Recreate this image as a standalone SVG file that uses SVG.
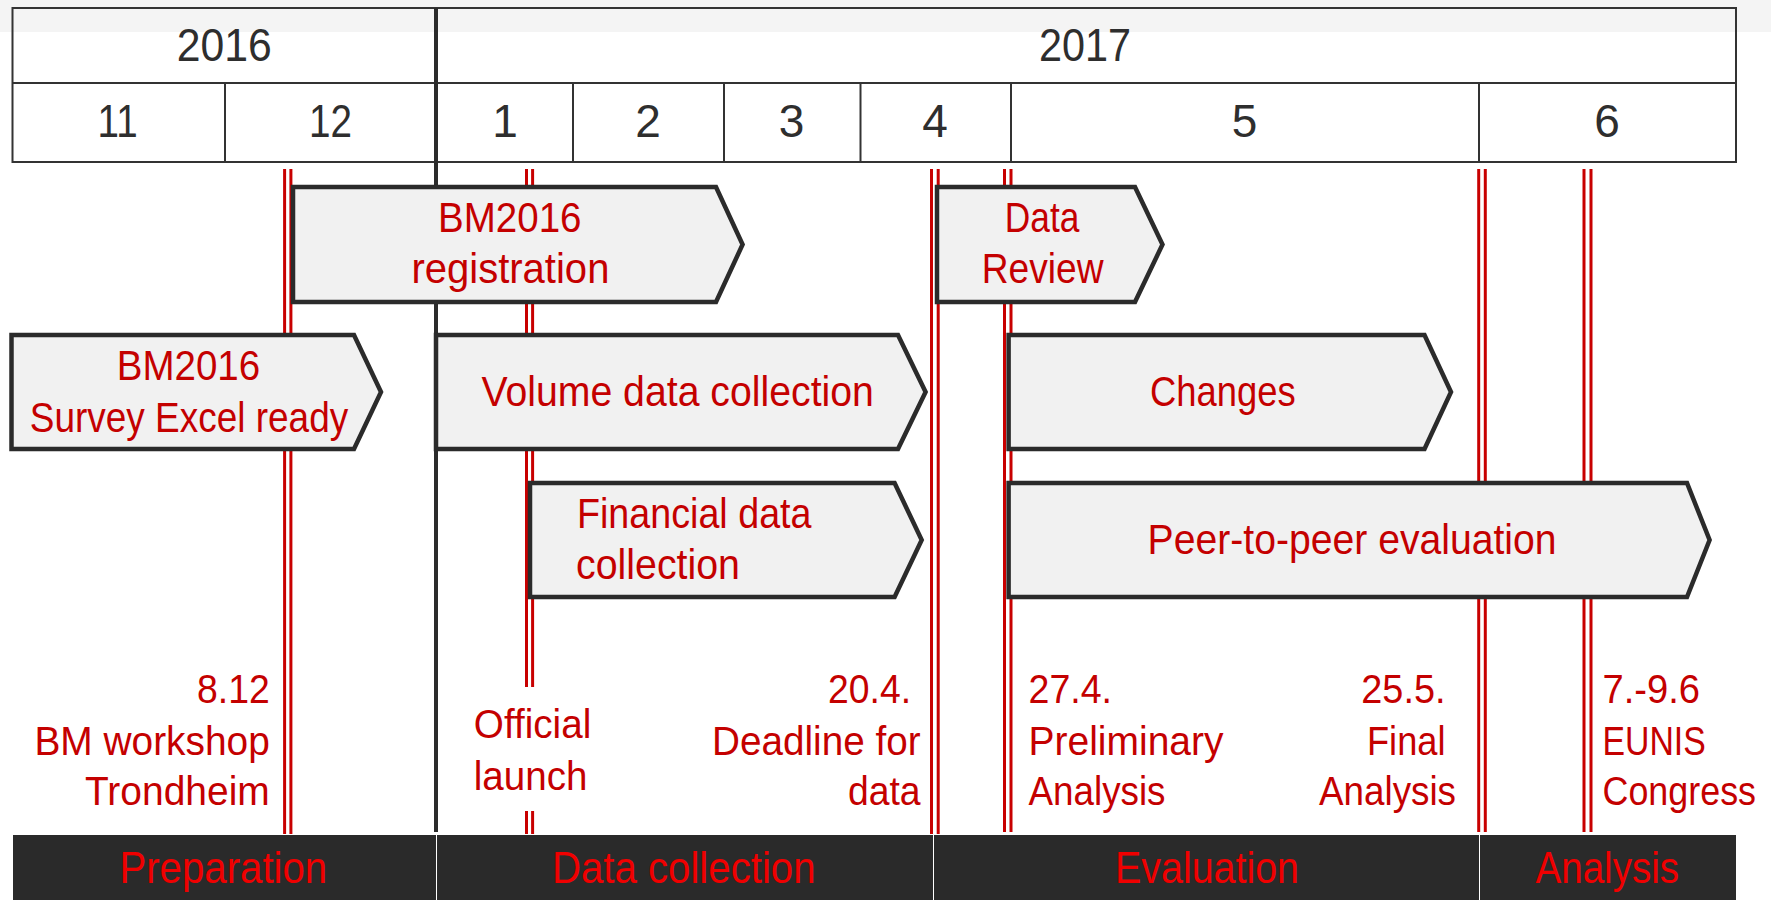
<svg xmlns="http://www.w3.org/2000/svg" width="1771" height="900" viewBox="0 0 1771 900">
<style>
text{font-family:"Liberation Sans Narrow","Liberation Sans",Arial,sans-serif;}
.hd{fill:#2e2e2e;font-size:46px;}
.bx{fill:#f1f1f1;stroke:#2b2b2b;stroke-width:4.5;}
.bl{fill:#c40000;font-size:42px;}
.ml{fill:#c40000;font-size:40px;}
.ph{fill:#f00000;font-size:44px;}
.rl{stroke:#c80000;stroke-width:3;fill:none;}
.grid{stroke:#333;stroke-width:2;fill:none;}
</style>
<rect x="0" y="0" width="1771" height="900" fill="#ffffff"/>
<rect x="0" y="0" width="1771" height="32" fill="#f4f4f4"/>

<g id="header">
<rect x="12.5" y="8" width="1723.5" height="154" fill="#f9f9f9" class="grid"/>
<line x1="12.5" y1="83" x2="1736" y2="83" class="grid"/>
<line x1="225" y1="83" x2="225" y2="162" class="grid"/>
<line x1="573" y1="83" x2="573" y2="162" class="grid"/>
<line x1="724" y1="83" x2="724" y2="162" class="grid"/>
<line x1="860.5" y1="83" x2="860.5" y2="162" class="grid"/>
<line x1="1011" y1="83" x2="1011" y2="162" class="grid"/>
<line x1="1479" y1="83" x2="1479" y2="162" class="grid"/>
<text class="hd" x="176.8" y="61" textLength="95" lengthAdjust="spacingAndGlyphs">2016</text>
<text class="hd" x="1039" y="61" textLength="92" lengthAdjust="spacingAndGlyphs">2017</text>
<text class="hd" x="97.6" y="137" textLength="40" lengthAdjust="spacingAndGlyphs">11</text>
<text class="hd" x="309" y="137" textLength="43" lengthAdjust="spacingAndGlyphs">12</text>
<text class="hd" x="505" y="137" text-anchor="middle">1</text>
<text class="hd" x="648" y="137" text-anchor="middle">2</text>
<text class="hd" x="791.6" y="137" text-anchor="middle">3</text>
<text class="hd" x="935" y="137" text-anchor="middle">4</text>
<text class="hd" x="1244.6" y="137" text-anchor="middle">5</text>
<text class="hd" x="1607" y="137" text-anchor="middle">6</text>
</g>

<g id="connectors">
<line x1="436" y1="8" x2="436" y2="832" stroke="#2b2b2b" stroke-width="4"/>
<line class="rl" x1="284.6" y1="169" x2="284.6" y2="834"/>
<line class="rl" x1="290.9" y1="169" x2="290.9" y2="834"/>
<line class="rl" x1="526.5" y1="169" x2="526.5" y2="687"/>
<line class="rl" x1="532.6" y1="169" x2="532.6" y2="687"/>
<line class="rl" x1="526.5" y1="811" x2="526.5" y2="834"/>
<line class="rl" x1="532.6" y1="811" x2="532.6" y2="834"/>
<line class="rl" x1="931.5" y1="169" x2="931.5" y2="834"/>
<line class="rl" x1="938.2" y1="169" x2="938.2" y2="834"/>
<line class="rl" x1="1004.5" y1="169" x2="1004.5" y2="832"/>
<line class="rl" x1="1011" y1="169" x2="1011" y2="832"/>
<line class="rl" x1="1478.7" y1="169" x2="1478.7" y2="832"/>
<line class="rl" x1="1485.3" y1="169" x2="1485.3" y2="832"/>
<line class="rl" x1="1584" y1="169" x2="1584" y2="832"/>
<line class="rl" x1="1591" y1="169" x2="1591" y2="832"/>
</g>

<g id="registration">
<polygon class="bx" points="293,187 716,187 742.6,244.5 716,302 293,302"/>
<text class="bl" x="438" y="231.7" textLength="143.5" lengthAdjust="spacingAndGlyphs">BM2016</text>
<text class="bl" x="411.4" y="283.3" textLength="198" lengthAdjust="spacingAndGlyphs">registration</text>
</g>
<g id="data-review">
<polygon class="bx" points="937,187 1135,187 1162.5,244.5 1135,302 937,302"/>
<text class="bl" x="1004.8" y="231.7" textLength="74.6" lengthAdjust="spacingAndGlyphs">Data</text>
<text class="bl" x="981.8" y="283.3" textLength="121.7" lengthAdjust="spacingAndGlyphs">Review</text>
</g>
<g id="survey">
<polygon class="bx" points="11.5,335 354,335 381,392 354,449 11.5,449"/>
<text class="bl" x="116.7" y="380" textLength="143.5" lengthAdjust="spacingAndGlyphs">BM2016</text>
<text class="bl" x="29.8" y="431.7" textLength="318.4" lengthAdjust="spacingAndGlyphs">Survey Excel ready</text>
</g>
<g id="volume">
<polygon class="bx" points="436,335 898,335 925.6,392 898,449 436,449"/>
<text class="bl" x="481.4" y="406" textLength="392.5" lengthAdjust="spacingAndGlyphs">Volume data collection</text>
</g>
<g id="changes">
<polygon class="bx" points="1008.6,335 1424.5,335 1451,392 1424.5,449 1008.6,449"/>
<text class="bl" x="1150" y="406" textLength="145.7" lengthAdjust="spacingAndGlyphs">Changes</text>
</g>
<g id="financial">
<polygon class="bx" points="530,483 894.6,483 921.7,540 894.6,597 530,597"/>
<text class="bl" x="577" y="527.7" textLength="234.5" lengthAdjust="spacingAndGlyphs">Financial data</text>
<text class="bl" x="576" y="579" textLength="164" lengthAdjust="spacingAndGlyphs">collection</text>
</g>
<g id="peer">
<polygon class="bx" points="1008.6,483 1687,483 1709.6,540 1687,597 1008.6,597"/>
<text class="bl" x="1147.6" y="554" textLength="409" lengthAdjust="spacingAndGlyphs">Peer-to-peer evaluation</text>
</g>

<g id="milestone-labels">
<text class="ml" x="197" y="703.3" textLength="72.7" lengthAdjust="spacingAndGlyphs">8.12</text>
<text class="ml" x="34.4" y="754.5" textLength="235.4" lengthAdjust="spacingAndGlyphs">BM workshop</text>
<text class="ml" x="85" y="805" textLength="184.8" lengthAdjust="spacingAndGlyphs">Trondheim</text>
<text class="ml" x="473.8" y="738.3" textLength="117.5" lengthAdjust="spacingAndGlyphs">Official</text>
<text class="ml" x="473.8" y="790" textLength="113.6" lengthAdjust="spacingAndGlyphs">launch</text>
<text class="ml" x="828" y="703.3" textLength="83" lengthAdjust="spacingAndGlyphs">20.4.</text>
<text class="ml" x="712" y="754.5" textLength="208.6" lengthAdjust="spacingAndGlyphs">Deadline for</text>
<text class="ml" x="848" y="805" textLength="72.6" lengthAdjust="spacingAndGlyphs">data</text>
<text class="ml" x="1028.5" y="703.3" textLength="83.5" lengthAdjust="spacingAndGlyphs">27.4.</text>
<text class="ml" x="1028.5" y="754.5" textLength="195" lengthAdjust="spacingAndGlyphs">Preliminary</text>
<text class="ml" x="1028.5" y="805" textLength="137" lengthAdjust="spacingAndGlyphs">Analysis</text>
<text class="ml" x="1361.3" y="703.3" textLength="84.2" lengthAdjust="spacingAndGlyphs">25.5.</text>
<text class="ml" x="1367" y="754.5" textLength="78.5" lengthAdjust="spacingAndGlyphs">Final</text>
<text class="ml" x="1319" y="805" textLength="137" lengthAdjust="spacingAndGlyphs">Analysis</text>
<text class="ml" x="1602.5" y="703.3" textLength="97.6" lengthAdjust="spacingAndGlyphs">7.-9.6</text>
<text class="ml" x="1602.5" y="754.5" textLength="103.3" lengthAdjust="spacingAndGlyphs">EUNIS</text>
<text class="ml" x="1602.5" y="805" textLength="153.5" lengthAdjust="spacingAndGlyphs">Congress</text>
</g>

<g id="phases">
<rect x="13" y="835" width="423" height="65" fill="#2a2a2a"/>
<rect x="437" y="835" width="496" height="65" fill="#2a2a2a"/>
<rect x="934" y="835" width="545" height="65" fill="#2a2a2a"/>
<rect x="1480" y="835" width="256" height="65" fill="#2a2a2a"/>
<text class="ph" x="119.4" y="883.3" textLength="207.8" lengthAdjust="spacingAndGlyphs">Preparation</text>
<text class="ph" x="552" y="883.3" textLength="263.5" lengthAdjust="spacingAndGlyphs">Data collection</text>
<text class="ph" x="1115" y="883.3" textLength="184" lengthAdjust="spacingAndGlyphs">Evaluation</text>
<text class="ph" x="1535.5" y="883.3" textLength="143.5" lengthAdjust="spacingAndGlyphs">Analysis</text>
</g>
</svg>
